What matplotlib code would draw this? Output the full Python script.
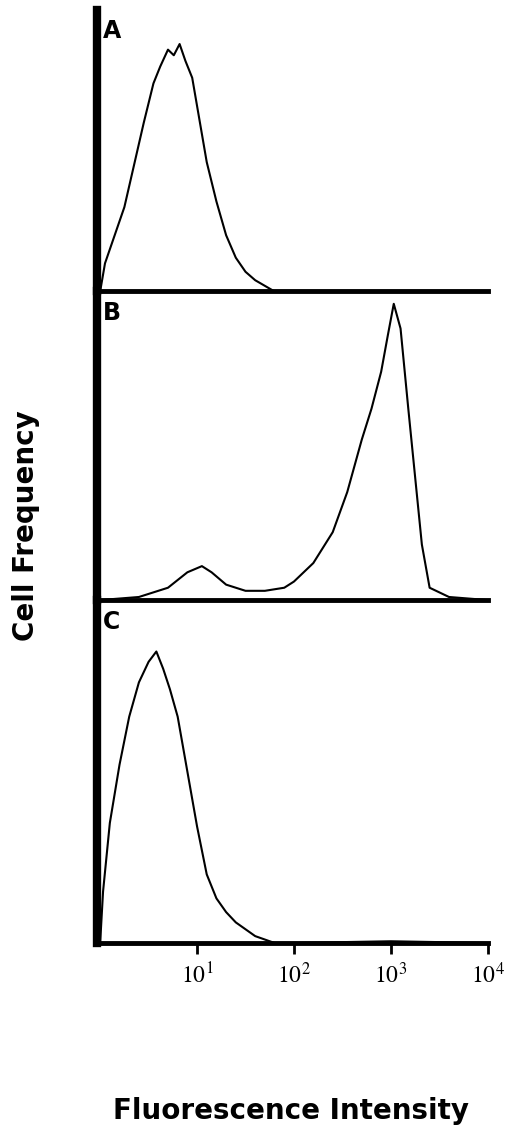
import matplotlib
matplotlib.use("Agg")
import matplotlib.pyplot as plt

plt.rcParams["mathtext.fontset"] = "stix"

# log10 fluorescence positions and relative cell frequency
a_logx = [0.0, 0.05, 0.15, 0.25, 0.35, 0.45, 0.55, 0.62, 0.7, 0.76, 0.82, 0.88, 0.95, 1.02, 1.1, 1.2, 1.3, 1.4, 1.5, 1.6, 1.7, 1.8, 2.0, 3.0, 4.0]
a_freq = [0.0, 0.10, 0.20, 0.30, 0.45, 0.60, 0.74, 0.80, 0.86, 0.84, 0.88, 0.82, 0.76, 0.62, 0.46, 0.32, 0.20, 0.12, 0.07, 0.04, 0.02, 0.0, 0.0, 0.0, 0.0]

b_logx = [0.0, 0.4, 0.7, 0.9, 1.05, 1.15, 1.3, 1.5, 1.7, 1.9, 2.0, 2.2, 2.4, 2.55, 2.7, 2.8, 2.9, 2.97, 3.03, 3.1, 3.18, 3.25, 3.32, 3.4, 3.6, 4.0]
b_freq = [0.0, 0.01, 0.04, 0.09, 0.11, 0.09, 0.05, 0.03, 0.03, 0.04, 0.06, 0.12, 0.22, 0.35, 0.52, 0.62, 0.74, 0.86, 0.96, 0.88, 0.62, 0.40, 0.18, 0.04, 0.01, 0.0]

c_logx = [0.0, 0.03, 0.1, 0.2, 0.3, 0.4, 0.5, 0.58, 0.65, 0.72, 0.8, 0.9, 1.0, 1.1, 1.2, 1.3, 1.4, 1.5, 1.6, 1.7, 1.8, 2.0, 3.0, 4.0]
c_freq = [0.0, 0.15, 0.35, 0.52, 0.66, 0.76, 0.82, 0.85, 0.80, 0.74, 0.66, 0.50, 0.34, 0.20, 0.13, 0.09, 0.06, 0.04, 0.02, 0.01, 0.0, 0.0, 0.005, 0.0]

panels = [("A", a_logx, a_freq), ("B", b_logx, b_freq), ("C", c_logx, c_freq)]
tick_pos = [1, 2, 3, 4]
tick_labels = [r"$10^{1}$", r"$10^{2}$", r"$10^{3}$", r"$10^{4}$"]

fig = plt.figure(figsize=(5.2, 11.43), dpi=100)
bounds = [(0.745, 0.991), (0.475, 0.745), (0.175, 0.475)]
for i, ((label, xs, ys), (b, t)) in enumerate(zip(panels, bounds)):
    ax = fig.add_axes([0.187, b, 0.751, t - b])
    ax.patch.set_visible(False)
    ax.set_zorder(10 - i)
    ax.plot(xs, ys, color="black", lw=1.5)
    ax.set_xlim(-0.03, 4.0)
    ax.set_ylim(0, 1.0)
    for s in ("top", "right"):
        ax.spines[s].set_visible(False)
    ax.spines["left"].set_linewidth(6)
    ax.spines["bottom"].set_linewidth(3.5)
    ax.set_yticks([])
    ax.text(0.015, 0.97, label, transform=ax.transAxes, fontsize=17,
            fontweight="bold", va="top", ha="left", family="DejaVu Sans")
    if i < 2:
        ax.set_xticks([])
    else:
        ax.set_xticks(tick_pos)
        ax.set_xticklabels(tick_labels, fontsize=17)
        ax.tick_params(axis="x", direction="out", length=8, width=2, pad=6)

fig.text(0.05, 0.54, "Cell Frequency", rotation=90, fontsize=20, fontweight="bold",
         ha="center", va="center")
fig.text(0.56, 0.028, "Fluorescence Intensity", fontsize=20, fontweight="bold",
         ha="center", va="center")
fig.savefig("out.png", dpi=100)
